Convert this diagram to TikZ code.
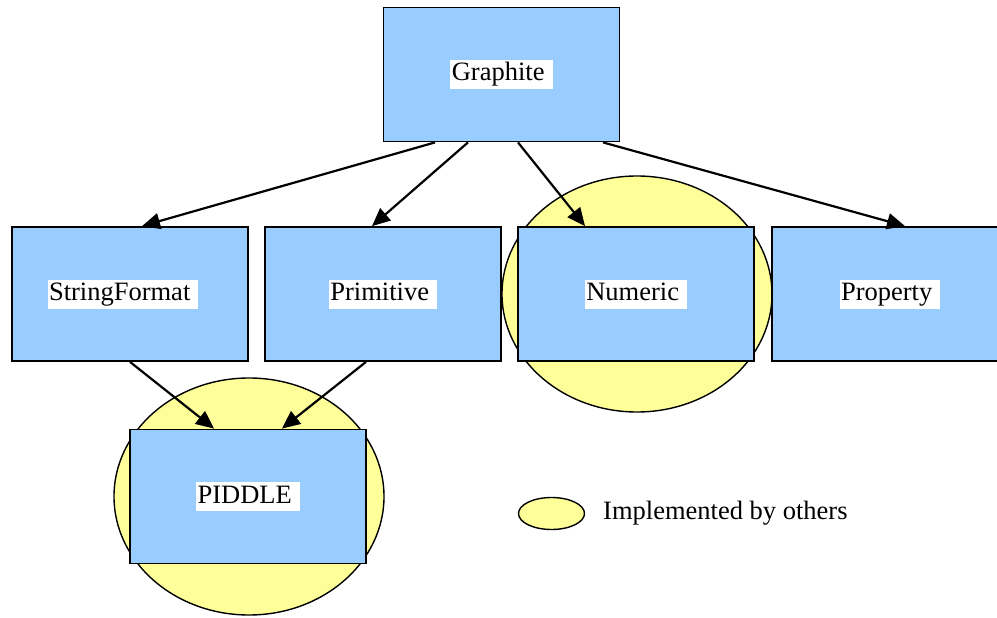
\documentclass[tikz,border=0pt]{standalone}
\usepackage{fontspec}
\setmainfont{Liberation Serif}
\newfontfamily\tnr{Liberation Serif}
\usetikzlibrary{arrows.meta,calc,shapes.geometric}
\definecolor{boxblue}{HTML}{99CCFF}
\definecolor{ellyellow}{HTML}{FFFF99}
\newcommand{\lbl}[1]{{\setlength\fboxsep{1.5pt}\colorbox{white}{\rule[-6.5pt]{0pt}{26pt}#1~}}}
\begin{document}
\begin{tikzpicture}[x=1pt,y=-1pt,
  every node/.style={font=\tnr\fontsize{26.5}{30}\selectfont},
  modbox/.style={draw=black,line width=1.8pt,fill=boxblue,minimum width=236pt,minimum height=134pt,inner sep=0pt},
  others/.style={draw=black,line width=1.4pt,fill=ellyellow,ellipse,inner sep=0pt},
  dep/.style={line width=2.2pt,-{Triangle[length=18pt,width=16pt]}}]
\useasboundingbox (0,0) rectangle (997,618);
% ellipses (behind)
\node[others,minimum width=270pt,minimum height=236pt] (nue) at (637,294) {};
\node[others,minimum width=270pt,minimum height=237pt] (pde) at (249,496.5) {};
\node[others,minimum width=66pt,minimum height=32pt] (leg) at (551.5,513.5) {};
\node[anchor=west,inner sep=0pt] (legtxt) at (603,513.5) {Implemented by others};
% boxes
\node[modbox] (g) at (501.5,74.5) {\lbl{Graphite}};
\node[modbox] (sf) at (130,294) {\lbl{StringFormat}\hspace*{14pt}};
\node[modbox] (pr) at (383,294) {\lbl{Primitive}};
\node[modbox] (nu) at (636,294) {\lbl{Numeric}};
\node[modbox] (po) at (890,294) {\lbl{Property}};
\node[modbox] (pd) at (248,496.5) {\lbl{PIDDLE}};
% arrows
\draw[dep] ($(g.south)+(-66.5,0)$) -- ($(sf.north)+(12,0)$);
\draw[dep] ($(g.south)+(-33.5,0)$) -- ($(pr.north)+(-11,0)$);
\draw[dep] ($(g.south)+(16.5,0)$) -- ($(nu.north)+(-51,0)$);
\draw[dep] ($(g.south)+(101.5,0)$) -- ($(po.north)+(15,0)$);
\draw[dep] ($(sf.south)+(0,0)$) -- ($(pd.north)+(-34,0)$);
\draw[dep] ($(pr.south)+(-17,0)$) -- ($(pd.north)+(34,0)$);
\end{tikzpicture}
\end{document}
